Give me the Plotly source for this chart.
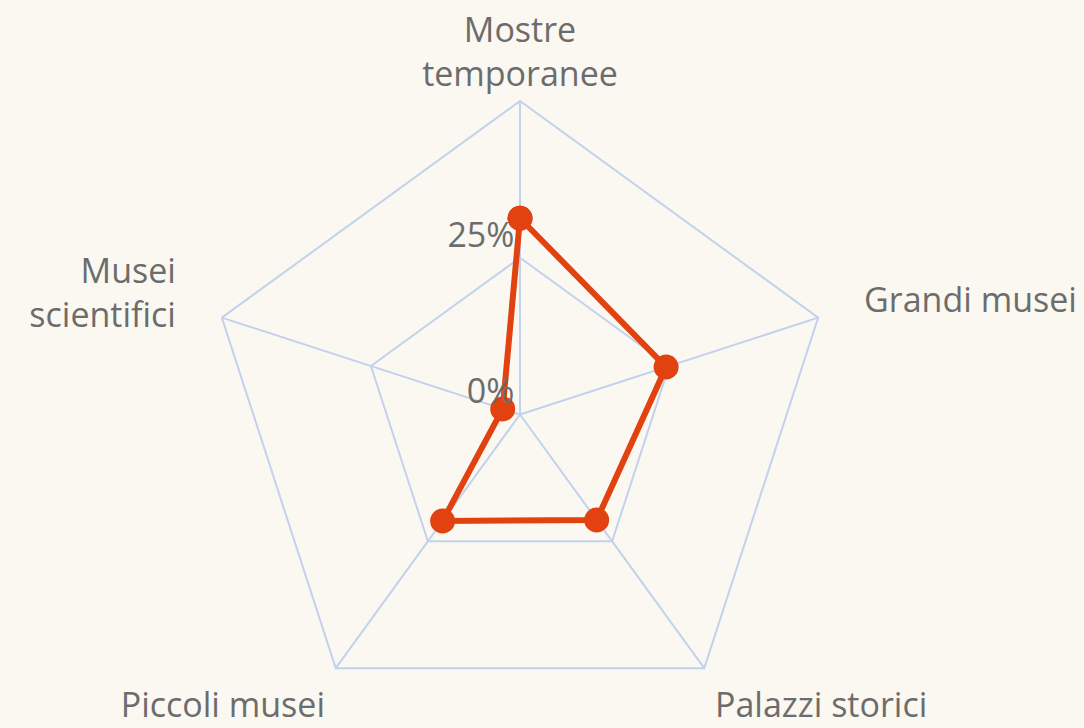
import plotly.graph_objects as go

categories = ["Mostre<br>temporanee", "Grandi musei", "Palazzi storici", "Piccoli musei", "Musei<br>scientifici"]
values = [31.3, 24.5, 20.8, 21.0, 2.9]
tick_vals = [0, 25]
tick_text = ["0%", "25%"]
radial_max = 50

text_color = "#6c6c6c"
grid_color = "#c3d2ec"
line_color = "#e1420f"
bg = "#faf8f1"
font_family = "Open Sans, Noto Sans, sans-serif"

fig = go.Figure()
fig.add_trace(go.Scatterpolar(
    r=values + [values[0]],
    theta=categories + [categories[0]],
    mode="lines+markers",
    line=dict(color=line_color, width=6),
    marker=dict(color=line_color, size=25),
    showlegend=False,
    hoverinfo="skip",
    subplot="polar",
))
# invisible carriers for the label-only overlay subplots
for sp in ["polar2", "polar3"]:
    fig.add_trace(go.Scatterpolar(
        r=values, theta=categories, mode="markers",
        marker=dict(opacity=0), showlegend=False, hoverinfo="skip", subplot=sp,
    ))

domain = dict(x=[0, 1], y=[0, 1])

def shown_only(idx):
    return [c if i in idx else "" for i, c in enumerate(categories)]

def label_axis(idx, ticklen):
    return dict(
        direction="clockwise", rotation=90,
        categoryorder="array", categoryarray=categories,
        showline=False, showgrid=False,
        ticks="outside", ticklen=ticklen,
        tickcolor="rgba(0,0,0,0)",
        tickmode="array", tickvals=categories, ticktext=shown_only(idx),
        tickfont=dict(size=34, color=text_color, family=font_family),
    )

hidden_radial = dict(visible=False, range=[0, radial_max])

fig.update_layout(
    width=1084,
    height=728,
    margin=dict(l=0, r=44, t=101, b=0),
    paper_bgcolor=bg,
    plot_bgcolor=bg,
    font=dict(family=font_family, size=34, color=text_color),
    polar=dict(
        domain=domain,
        bgcolor=bg,
        gridshape="linear",
        angularaxis=dict(
            direction="clockwise",
            rotation=90,
            categoryorder="array", categoryarray=categories,
            showline=True,
            linecolor=grid_color,
            linewidth=2,
            gridcolor=grid_color,
            gridwidth=2,
            ticks="",
            tickmode="array", tickvals=categories, ticktext=shown_only([0]),
            tickfont=dict(size=34, color=text_color),
        ),
        radialaxis=dict(
            range=[0, radial_max],
            tickvals=tick_vals,
            ticktext=[t + "<br>\u00a0" for t in tick_text],
            angle=90,
            tickangle=90,
            side="counterclockwise",
            showline=False,
            ticks="",
            gridcolor=grid_color,
            gridwidth=2,
            tickfont=dict(size=34, color=text_color),
        ),
    ),
    polar2=dict(
        domain=domain, bgcolor="rgba(0,0,0,0)", gridshape="linear",
        angularaxis=label_axis([1, 4], 41),
        radialaxis=hidden_radial,
    ),
    polar3=dict(
        domain=domain, bgcolor="rgba(0,0,0,0)", gridshape="linear",
        angularaxis=label_axis([2, 3], 11),
        radialaxis=hidden_radial,
    ),
)

fig.write_html(
    "out.html",
    config={"displayModeBar": False, "staticPlot": True},
    post_script="document.body.style.margin='0';document.body.style.backgroundColor='%s';" % bg,
)
